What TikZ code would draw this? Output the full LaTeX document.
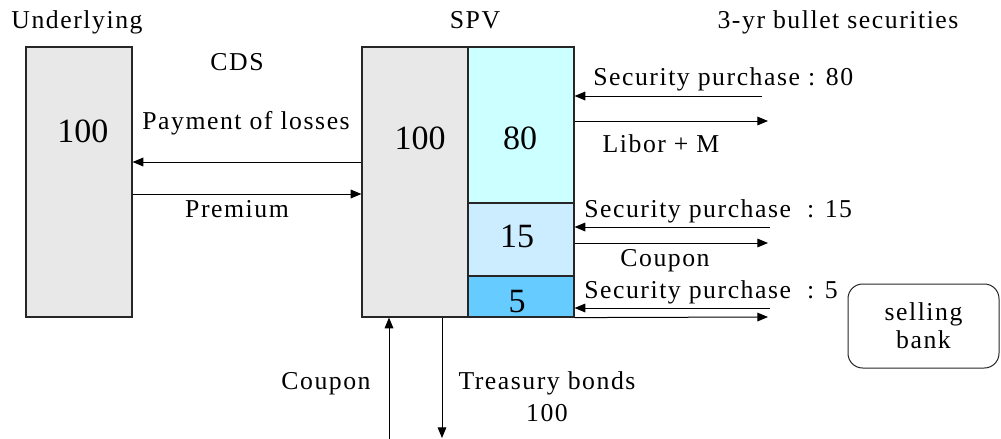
\documentclass[tikz,border=0pt]{standalone}
\usepackage{fontspec}
\setmainfont{Liberation Serif}[LetterSpace=6]
\newfontfamily\bigdigits{Liberation Serif}
\usetikzlibrary{arrows.meta}
\definecolor{boxgray}{HTML}{E8E8E8}
\definecolor{tranA}{HTML}{CCFFFF}
\definecolor{tranB}{HTML}{CCECFF}
\definecolor{tranC}{HTML}{66CCFF}
\tikzset{
  box/.style={draw=black!85, line width=0.9pt, inner sep=0pt, rectangle},
  flow/.style={-{Triangle[length=8pt,width=6.5pt]}, line width=0.75pt},
  lbl/.style={inner sep=0pt, anchor=base, font=\fontsize{19.3}{24}\selectfont},
  big/.style={inner sep=0pt, anchor=base, font=\bigdigits\fontsize{25.5}{30}\selectfont},
}
\begin{document}
\begin{tikzpicture}[x=0.75pt, y=-0.75pt]
\useasboundingbox (0,0) rectangle (1001,439);

% boxes
\node[box, fill=boxgray, minimum width=79.5pt, minimum height=202.5pt] (und) at (79,182) {};
\node[box, fill=boxgray, minimum width=79.5pt, minimum height=202.5pt] (spv) at (415,182) {};
\node[box, fill=tranA, minimum width=79.5pt, minimum height=117pt] (t80) at (521,125) {};
\node[box, fill=tranB, minimum width=79.5pt, minimum height=54.75pt] (t15) at (521,239.5) {};
\node[box, fill=tranC, minimum width=79.5pt, minimum height=30.75pt] (t5) at (521,296.5) {};
\node[box, line width=0.75pt, rounded corners=11pt, minimum width=113.25pt, minimum height=63pt,
      align=center, font=\fontsize{19.3}{24}\selectfont] (bank) at (923.5,326) {\raisebox{-3pt}{selling}\\bank};

% headings
\node[lbl] (hund) at (77,28) {Underlying};
\node[lbl] (hspv) at (475,28) {SPV};
\node[lbl] (hsec) at (838,28) {3-yr bullet securities};
\node[lbl] (hcds) at (237,70) {CDS};

% amounts
\node[big] (a1) at (83,142) {100};
\node[big] (a2) at (420,149) {100};
\node[big] (a3) at (520,149) {80};
\node[big] (a4) at (517,247) {15};
\node[big] (a5) at (517,312) {5};

% CDS flows
\coordinate (ypay) at (0,162);
\coordinate (yprem) at (0,194);
\draw[flow] (spv.west |- ypay) -- (und.east |- ypay);
\draw[flow] (und.east |- yprem) -- (spv.west |- yprem);
\node[lbl] (lpay) at (246,129) {Payment of losses};
\node[lbl] (lprem) at (237,217) {Premium};

% tranche flows
\coordinate (s80) at (762,96);
\coordinate (e80) at (768,121);
\coordinate (s15) at (770,227);
\coordinate (e15) at (768,243);
\coordinate (s5) at (770,308);
\coordinate (e5) at (768,317);
\draw[flow] (s80) -- (t80.east |- s80);
\draw[flow] (t80.east |- e80) -- (e80);
\draw[flow] (s15) -- (t15.east |- s15);
\draw[flow] (t15.east |- e15) -- (e15);
\draw[flow] (s5) -- (t5.east |- s5);
\draw[flow] (t5.south east) -- (e5);
\node[lbl, anchor=base west] (l80) at (593,85) {Security purchase : 80};
\node[lbl] (llib) at (661,152) {Libor + M};
\node[lbl, anchor=base west] (l15) at (584,217) {Security purchase~ : 15};
\node[lbl] (lcp) at (665,266) {Coupon};
\node[lbl, anchor=base west] (l5) at (584,298) {Security purchase~ : 5};

% treasury flows
\coordinate (cin) at (389,439);
\coordinate (tout) at (442,438);
\draw[flow] (cin) -- (spv.south -| cin);
\draw[flow] (spv.south -| tout) -- (tout);
\node[lbl] (lcb) at (326,389) {Coupon};
\node[lbl] (ltb) at (547,389) {Treasury bonds};
\node[lbl] (ltb2) at (547,421) {100};
\end{tikzpicture}
\end{document}
